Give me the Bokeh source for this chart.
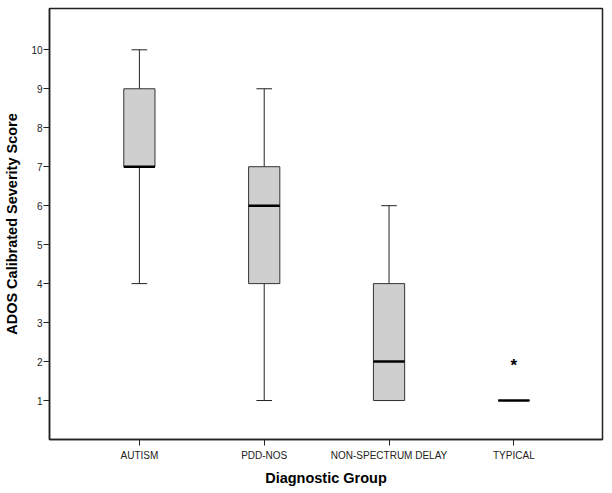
from bokeh.plotting import figure
from bokeh.models import Range1d, FixedTicker
from bokeh.core.properties import value
from bokeh.embed import file_html
from bokeh.resources import INLINE

# ---- data ----
categories = ["AUTISM", "PDD-NOS", "NON-SPECTRUM DELAY", "TYPICAL"]
whisker_low = [4, 1, 1, 1]
q1 = [7, 4, 1, 1]
median = [7, 6, 2, 1]
q3 = [9, 7, 4, 1]
whisker_high = [10, 9, 6, 1]
outlier_group = ["TYPICAL"]
outlier_value = [2]
y_ticks = [1, 2, 3, 4, 5, 6, 7, 8, 9, 10]

# ---- positions derived from category order ----
xs = [i + 1 for i in range(len(categories))]
box_w = 0.25
cap_w = box_w / 2
ox = [xs[categories.index(g)] for g in outlier_group]

FONT = "Liberation Sans"

p = figure(width=612, height=493, output_backend="svg", toolbar_location=None,
           x_range=Range1d(xs[0] - 0.72, xs[-1] + 0.71),
           y_range=Range1d(0, 11.06),
           min_border_left=49, min_border_right=10, min_border_top=8, min_border_bottom=54)

p.xgrid.visible = False
p.ygrid.visible = False
p.outline_line_color = "#222222"
p.outline_line_width = 1.5
p.background_fill_color = "white"
p.border_fill_color = "white"

# whiskers
p.segment(xs, q3, xs, whisker_high, line_color="#222222", line_width=1)
p.segment(xs, whisker_low, xs, q1, line_color="#222222", line_width=1)
# caps
p.segment([x - cap_w / 2 for x in xs], whisker_high, [x + cap_w / 2 for x in xs], whisker_high,
          line_color="#222222", line_width=1)
p.segment([x - cap_w / 2 for x in xs], whisker_low, [x + cap_w / 2 for x in xs], whisker_low,
          line_color="#222222", line_width=1)
# boxes
p.vbar(x=xs, width=box_w, bottom=q1, top=q3, fill_color="#cfcfcf",
       line_color="#333333", line_width=1)
# medians
p.segment([x - box_w / 2 for x in xs], median, [x + box_w / 2 for x in xs], median,
          line_color="black", line_width=2.5)
# outlier
p.text(x=ox, y=outlier_value, text=["*"], text_align="center", text_baseline="middle",
       text_font=value(FONT), text_font_size="17px", text_font_style="bold",
       text_color="black", y_offset=4)

# axes
p.xaxis.ticker = FixedTicker(ticks=xs)
p.xaxis.major_label_overrides = {x: c for x, c in zip(xs, categories)}
p.yaxis.ticker = FixedTicker(ticks=y_ticks)
p.xaxis.minor_tick_line_color = None
p.yaxis.minor_tick_line_color = None
for ax in (p.xaxis, p.yaxis):
    ax.major_tick_out = 6
    ax.major_tick_in = 0
    ax.axis_line_color = "#222222"
    ax.axis_line_width = 1.5
    ax.major_tick_line_color = "#222222"
    ax.major_label_text_font = FONT
    ax.major_label_text_font_size = "10px"
    ax.major_label_text_color = "#222222"
    ax.axis_label_text_font = FONT
    ax.axis_label_text_font_size = "14.5px"
    ax.axis_label_text_font_style = "bold"
    ax.axis_label_text_color = "black"
p.yaxis.major_label_standoff = 1
p.xaxis.major_label_standoff = 4
p.xaxis.axis_label = "Diagnostic Group"
p.yaxis.axis_label = "ADOS Calibrated Severity Score"
p.xaxis.axis_label_standoff = 6
p.yaxis.axis_label_standoff = 8

open("out.html", "w").write(file_html(p, INLINE))
